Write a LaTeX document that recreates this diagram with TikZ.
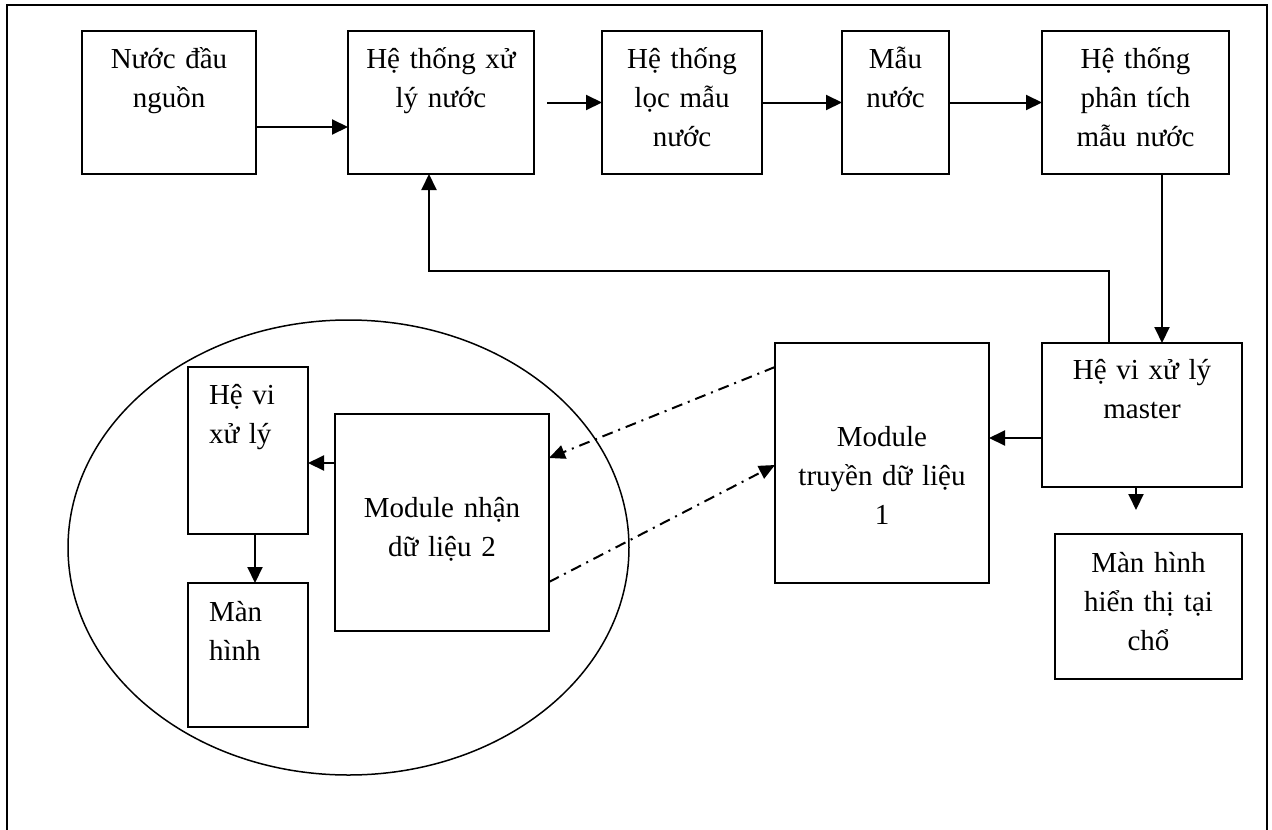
\documentclass[tikz,border=0pt]{standalone}
\usepackage{fontspec}
\setmainfont{Liberation Serif}
\usetikzlibrary{arrows.meta,shapes.geometric}

\tikzset{
  box/.style={draw, line width=2pt, inner sep=0pt, outer sep=0pt, rectangle},
  txt/.style={inner sep=0pt, outer sep=0pt, align=center,
              font=\fontsize{29}{39}\selectfont},
  ltxt/.style={inner sep=0pt, outer sep=0pt, align=left,
              font=\fontsize{29}{39}\selectfont},
  arr/.style={line width=2pt, -{Triangle[length=16pt,width=15pt]}},
  link/.style={line width=2pt, dash pattern=on 11pt off 6pt on 2pt off 6pt,
               -{Triangle[length=16pt,width=14pt]}},
}

\begin{document}
\begin{tikzpicture}[x=1pt,y=-1pt]
  \useasboundingbox (0,0) rectangle (1272,830);
  \fill[white] (0,0) rectangle (1272,830);
  \clip (0,0) rectangle (1272,830);

  % frame (bottom edge lies below the page)
  \draw[line width=2pt] (7,845) -- (7,5) -- (1267,5) -- (1267,845);

  % top row
  \node[box, minimum width=174pt, minimum height=143pt] (b1) at (169,102.5) {};
  \node[txt, text width=170pt, anchor=base] (b1t) at (169,68) {Nước đầu\\nguồn};

  \node[box, minimum width=186pt, minimum height=143pt] (b2) at (441,102.5) {};
  \node[txt, text width=182pt, anchor=base] (b2t) at (441,68) {Hệ thống xử\\lý nước};

  \node[box, minimum width=160pt, minimum height=143pt] (b3) at (682,102.5) {};
  \node[txt, text width=156pt, anchor=base] (b3t) at (682,68) {Hệ thống\\lọc mẫu\\nước};

  \node[box, minimum width=107pt, minimum height=143pt] (b4) at (895.5,102.5) {};
  \node[txt, text width=103pt, anchor=base] (b4t) at (895.5,68) {Mẫu\\nước};

  \node[box, minimum width=187pt, minimum height=143pt] (b5) at (1135.5,102.5) {};
  \node[txt, text width=183pt, anchor=base] (b5t) at (1135.5,68) {Hệ thống\\phân tích\\mẫu nước};

  % right column
  \node[box, minimum width=200pt, minimum height=144pt] (m) at (1142,415) {};
  \node[txt, text width=196pt, anchor=base] (mt) at (1142,379) {Hệ vi xử lý\\master};

  \node[box, minimum width=187pt, minimum height=145pt] (d) at (1148.5,606.5) {};
  \node[txt, text width=183pt, anchor=base] (dt) at (1148.5,572) {Màn hình\\hiển thị tại\\chổ};

  \node[box, minimum width=214pt, minimum height=240pt] (t1) at (882,463) {};
  \node[txt, text width=210pt, anchor=base] (t1t) at (882,446) {Module\\truyền dữ liệu\\1};

  % remote station
  \node[draw, ellipse, line width=1.5pt, inner sep=0pt,
        minimum width=561pt, minimum height=455pt] (grp) at (348.5,547.5) {};

  \node[box, minimum width=214pt, minimum height=217pt] (r2) at (442,522.5) {};
  \node[txt, text width=210pt, anchor=base] (r2t) at (442,517) {Module nhận\\dữ liệu 2};

  \node[box, minimum width=120pt, minimum height=167pt] (cpu) at (248,450.5) {};
  \node[ltxt, text width=96pt, anchor=base west] (cput) at (209,404) {Hệ vi\\xử lý};

  \node[box, minimum width=120pt, minimum height=144pt] (scr) at (248,655) {};
  \node[ltxt, text width=96pt, anchor=base west] (scrt) at (209,621) {Màn\\hình};

  % helper coordinates for connector positions
  \coordinate (vx) at (1162,0);
  \coordinate (fbR) at (1109,271);
  \coordinate (fbL) at (429,271);
  \coordinate (ym) at (0,438);
  \coordinate (dtip) at (1136,510);
  \coordinate (yr) at (0,463);
  \coordinate (xc) at (255,0);
  \coordinate (ya) at (0,367);
  \coordinate (yb) at (0,458);
  \coordinate (yc) at (0,582);
  \coordinate (yd) at (0,465);

  % water path
  \draw[arr] ([yshift=-24.5pt]b1.east) -- ([yshift=-24.5pt]b2.west);
  \draw[arr] ([xshift=13pt]b2.east) -- (b3.west);
  \draw[arr] (b3.east) -- (b4.west);
  \draw[arr] (b4.east) -- (b5.west);
  \draw[arr] (b5.south -| vx) -- (m.north -| vx);

  % feedback to treatment
  \draw[arr] (m.north -| fbR) -- (fbR) -- (fbL) -- (b2.south -| fbL);

  % master outputs
  \draw[arr] (m.west |- ym) -- (t1.east |- ym);
  \draw[arr] (m.south -| dtip) -- (dtip);

  % wireless links
  \draw[link] (t1.west |- ya) -- (r2.east |- yb);
  \draw[link] (r2.east |- yc) -- (t1.west |- yd);

  % remote station internals
  \draw[arr] (r2.west |- yr) -- (cpu.east |- yr);
  \draw[arr] (cpu.south -| xc) -- (scr.north -| xc);
\end{tikzpicture}
\end{document}
